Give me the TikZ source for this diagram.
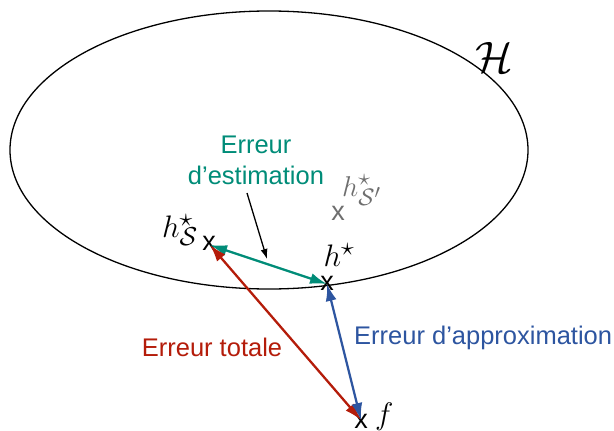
\RequirePackage{fix-cm}
\documentclass[tikz,border=0pt]{standalone}
\usepackage{graphicx}
\usepackage{fontspec}
\setmainfont{Liberation Sans}
\usetikzlibrary{arrows.meta}
\definecolor{teal1}{RGB}{0,140,120}
\definecolor{red1}{RGB}{180,28,10}
\definecolor{blue1}{RGB}{45,85,160}
\definecolor{gray1}{RGB}{110,110,110}
\newcommand\mlab[2][1.25]{\scalebox{#1}{\fontsize{24.88}{30}\selectfont$#2$}}
\begin{document}
\begin{tikzpicture}[x=1pt,y=-1pt,
  lbl/.style={font=\fontsize{25.5}{29}\selectfont, inner sep=0pt},
  mlbl/.style={inner sep=0pt},
  xmark/.style={font=\fontsize{27}{29}\selectfont, inner sep=0pt},
  darr/.style={line width=2.3pt, {Latex[length=17pt,width=11pt]}-{Latex[length=17pt,width=11pt]}},
]
\useasboundingbox (0,0) rectangle (614,431);
\draw[line width=1.3pt] (269,150) ellipse [x radius=259, y radius=139];
\node[inner sep=0pt, font=\fontsize{44}{48}\selectfont] (H) at (494,57) {$\mathcal{H}$};
% markers
\node[xmark] (hsm) at (209,243) {x};
\node[xmark] (hm) at (327,283) {x};
\node[xmark] (fm) at (361,421) {x};
\node[xmark, text=gray1] (hspm) at (338,213) {x};
\coordinate (hs) at (210,245);
\coordinate (hst) at (327,284);
\coordinate (f) at (361,420);
% math labels
\node[mlbl, anchor=east] (hsl) at (198,230) {\mlab{h^\star_{\mathcal{S}}}};
\node[mlbl] (hl) at (339,255) {\mlab{h^\star}};
\node[mlbl, anchor=west] (fl) at (375,417) {\mlab{f}};
\node[mlbl, anchor=west, text=gray1] (hspl) at (342,190) {\mlab[1.15]{h^\star_{\mathcal{S}'}}};
% texts
\node[lbl, text=teal1, align=center] (est) at (256,160) {Erreur\\[2pt]d’estimation};
\node[lbl, text=blue1, anchor=west] (app) at (354,338) {Erreur d’approximation};
\node[lbl, text=red1] (tot) at (212,347) {Erreur totale};
% arrows
\draw[darr, teal1] (hs) -- (hst);
\draw[darr, red1] (hs) -- (f);
\draw[darr, blue1] (hst) -- (f);
\coordinate (tp) at (267,259);
\draw[line width=1.3pt, -{Latex[length=10pt,width=7pt]}] (247,193) -- (tp);
\end{tikzpicture}
\end{document}
